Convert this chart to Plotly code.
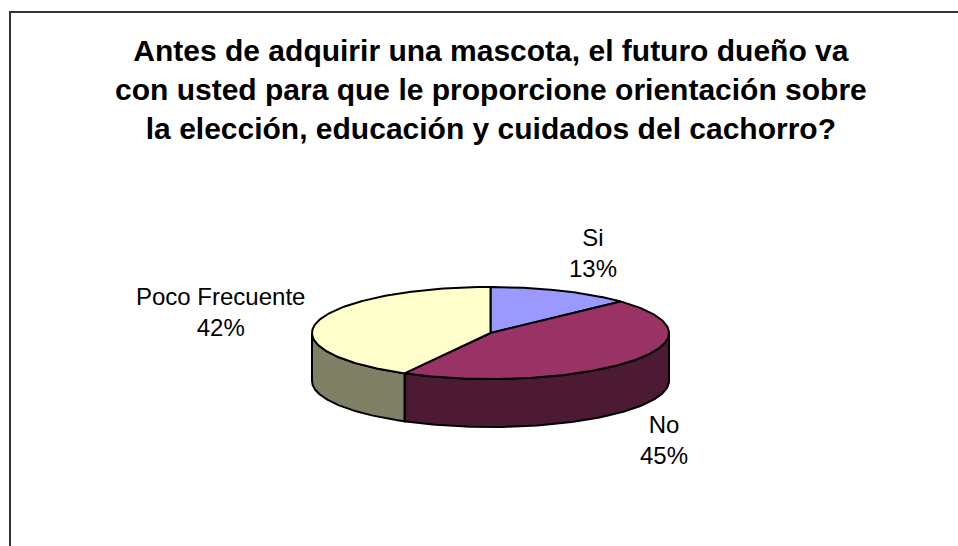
import numpy as np
import plotly.graph_objects as go

# ---- data ----
categories = ["Si", "No", "Poco Frecuente"]
values = [13, 45, 42]
title_lines = [
    "Antes de adquirir una mascota, el futuro dueño va",
    "con usted para que le proporcione orientación sobre",
    "la elección, educación y cuidados del cachorro?",
]

# ---- style / layout ----
top_colors = ["#9999FF", "#993366", "#FFFFCC"]
W, H = 958, 546
CX, CY = 490.5, 333.0      # centre of top ellipse (px)
A, B = 178.5, 46.0         # semi-axes of top ellipse
DEPTH = 48.0               # thickness of the pie
FONT = "Liberation Sans, Arial, sans-serif"


def darken(hex_color, f=0.5):
    h = hex_color.lstrip("#")
    r, g, b = (int(h[i:i + 2], 16) for i in (0, 2, 4))
    return "#%02X%02X%02X" % (round(r * f), round(g * f), round(b * f))


def ell(t_deg, dy=0.0):
    t = np.radians(t_deg)
    return CX + A * np.cos(t), CY - B * np.sin(t) + dy


total = float(sum(values))
fig = go.Figure()

# slice angles (start at 12 o'clock, clockwise)
angles = []
cur = 90.0
for v in values:
    span = v / total * 360.0
    angles.append((cur, cur - span))
    cur -= span

# side walls (front half: angles between -180 and 0)
for (t0, t1), col in zip(angles, top_colors):
    hi, lo = min(t0, 0.0), max(t1, -180.0)
    if hi <= lo:
        continue
    ts = np.linspace(hi, lo, 120)
    xt, yt = ell(ts)
    xb, yb = ell(ts[::-1], DEPTH)
    xs = np.concatenate([xt, xb, xt[:1]])
    ys = np.concatenate([yt, yb, yt[:1]])
    fig.add_trace(go.Scatter(x=xs, y=ys, mode="lines", fill="toself",
                             fillcolor=darken(col), line=dict(color="black", width=2),
                             hoverinfo="skip", showlegend=False))

# top faces
for (t0, t1), col in zip(angles, top_colors):
    ts = np.linspace(t0, t1, 150)
    xa, ya = ell(ts)
    xs = np.concatenate([[CX], xa, [CX]])
    ys = np.concatenate([[CY], ya, [CY]])
    fig.add_trace(go.Scatter(x=xs, y=ys, mode="lines", fill="toself",
                             fillcolor=col, line=dict(color="black", width=2),
                             hoverinfo="skip", showlegend=False))

# data labels outside the slices
annotations = []
for (t0, t1), cat, v in zip(angles, categories, values):
    tm = (t0 + t1) / 2.0
    c, s = np.cos(np.radians(tm)), np.sin(np.radians(tm))
    ex, ey = ell(tm, DEPTH if s < 0 else 0.0)
    if c > 0.3:
        xa_, dx = "left", 6
    elif c < -0.3:
        xa_, dx = "right", -11
    else:
        xa_, dx = "center", 0
    if s > 0.3:
        ya_, dy = "bottom", -7
    elif s < -0.3:
        ya_, dy = "top", 0
    else:
        ya_, dy = "middle", -10
    annotations.append(dict(
        x=ex + dx, y=ey + dy, xref="x", yref="y", xanchor=xa_, yanchor=ya_,
        text=f"{cat}<br>{round(v / total * 100)}%", showarrow=False,
        align="center", font=dict(family=FONT, size=24, color="black")))

annotations.append(dict(
    x=490.5, y=89, xref="x", yref="y", xanchor="center", yanchor="middle",
    text="<b>" + "<br>".join(title_lines) + "</b>", showarrow=False,
    align="center", font=dict(family=FONT, size=30, color="black")))

fig.update_layout(
    width=W, height=H, margin=dict(l=0, r=0, t=0, b=0),
    paper_bgcolor="white", plot_bgcolor="white",
    xaxis=dict(range=[0, W], visible=False, fixedrange=True),
    yaxis=dict(range=[H, 0], visible=False, fixedrange=True),
    annotations=annotations,
    shapes=[dict(type="rect", xref="x", yref="y", x0=10, y0=12, x1=W + 30, y1=H + 30,
                 line=dict(color="#333333", width=2), layer="below")],
)

fig.write_html("out.html", config={"displayModeBar": False},
               post_script="document.body.style.margin='0';")
